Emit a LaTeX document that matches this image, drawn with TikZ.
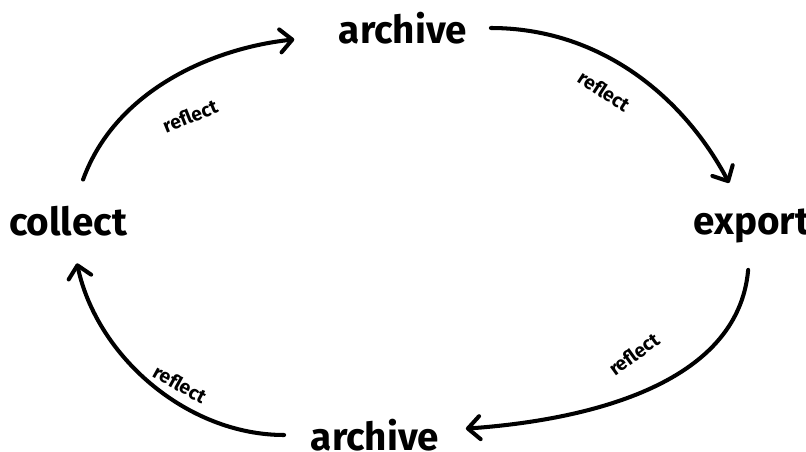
\documentclass[tikz,border=0pt]{standalone}
\usepackage{fontspec}
\setmainfont{Fira Sans}
\usetikzlibrary{arrows.meta}

\begin{document}
\begin{tikzpicture}[x=0.02cm,y=0.02cm,
  stage/.style={font=\fontsize{22}{24}\selectfont\bfseries,inner sep=2pt},
  flow/.style={line width=2.3pt,line cap=round,-{Straight Barb[length=2.4mm,width=4.6mm,round]}},
  lbl/.style={font=\fontsize{11}{13}\selectfont\bfseries,inner sep=1pt}]
\useasboundingbox (0,0) rectangle (806,451);
% the four stages
\node[stage] (collect) at (68,230) {collect};
\node[stage] (archtop) at (403,423) {archive};
\node[stage] (export) at (752,225) {export};
\node[stage] (archbot) at (375,16) {archive};
% the cycle
\draw[flow,shorten <=0.48cm,shorten >=0.82cm] (collect) to[out=70,in=186] (archtop);
\draw[flow,shorten <=0.40cm,shorten >=0.50cm] (archtop) to[out=0,in=118] (export);
\draw[flow,shorten <=0.46cm,shorten >=0.46cm] (export) to[out=-95,in=4] (archbot);
\draw[flow,shorten <=0.46cm,shorten >=0.48cm] (archbot) to[out=180,in=-78] (collect);
% labels on the arrows
\node[lbl,rotate=22] (lbla) at (190,335) {reflect};
\node[lbl,rotate=-33] (lblb) at (604,360) {reflect};
\node[lbl,rotate=36] (lblc) at (634,97) {reflect};
\node[lbl,rotate=-29] (lbld) at (180,67) {reflect};
\end{tikzpicture}
\end{document}
